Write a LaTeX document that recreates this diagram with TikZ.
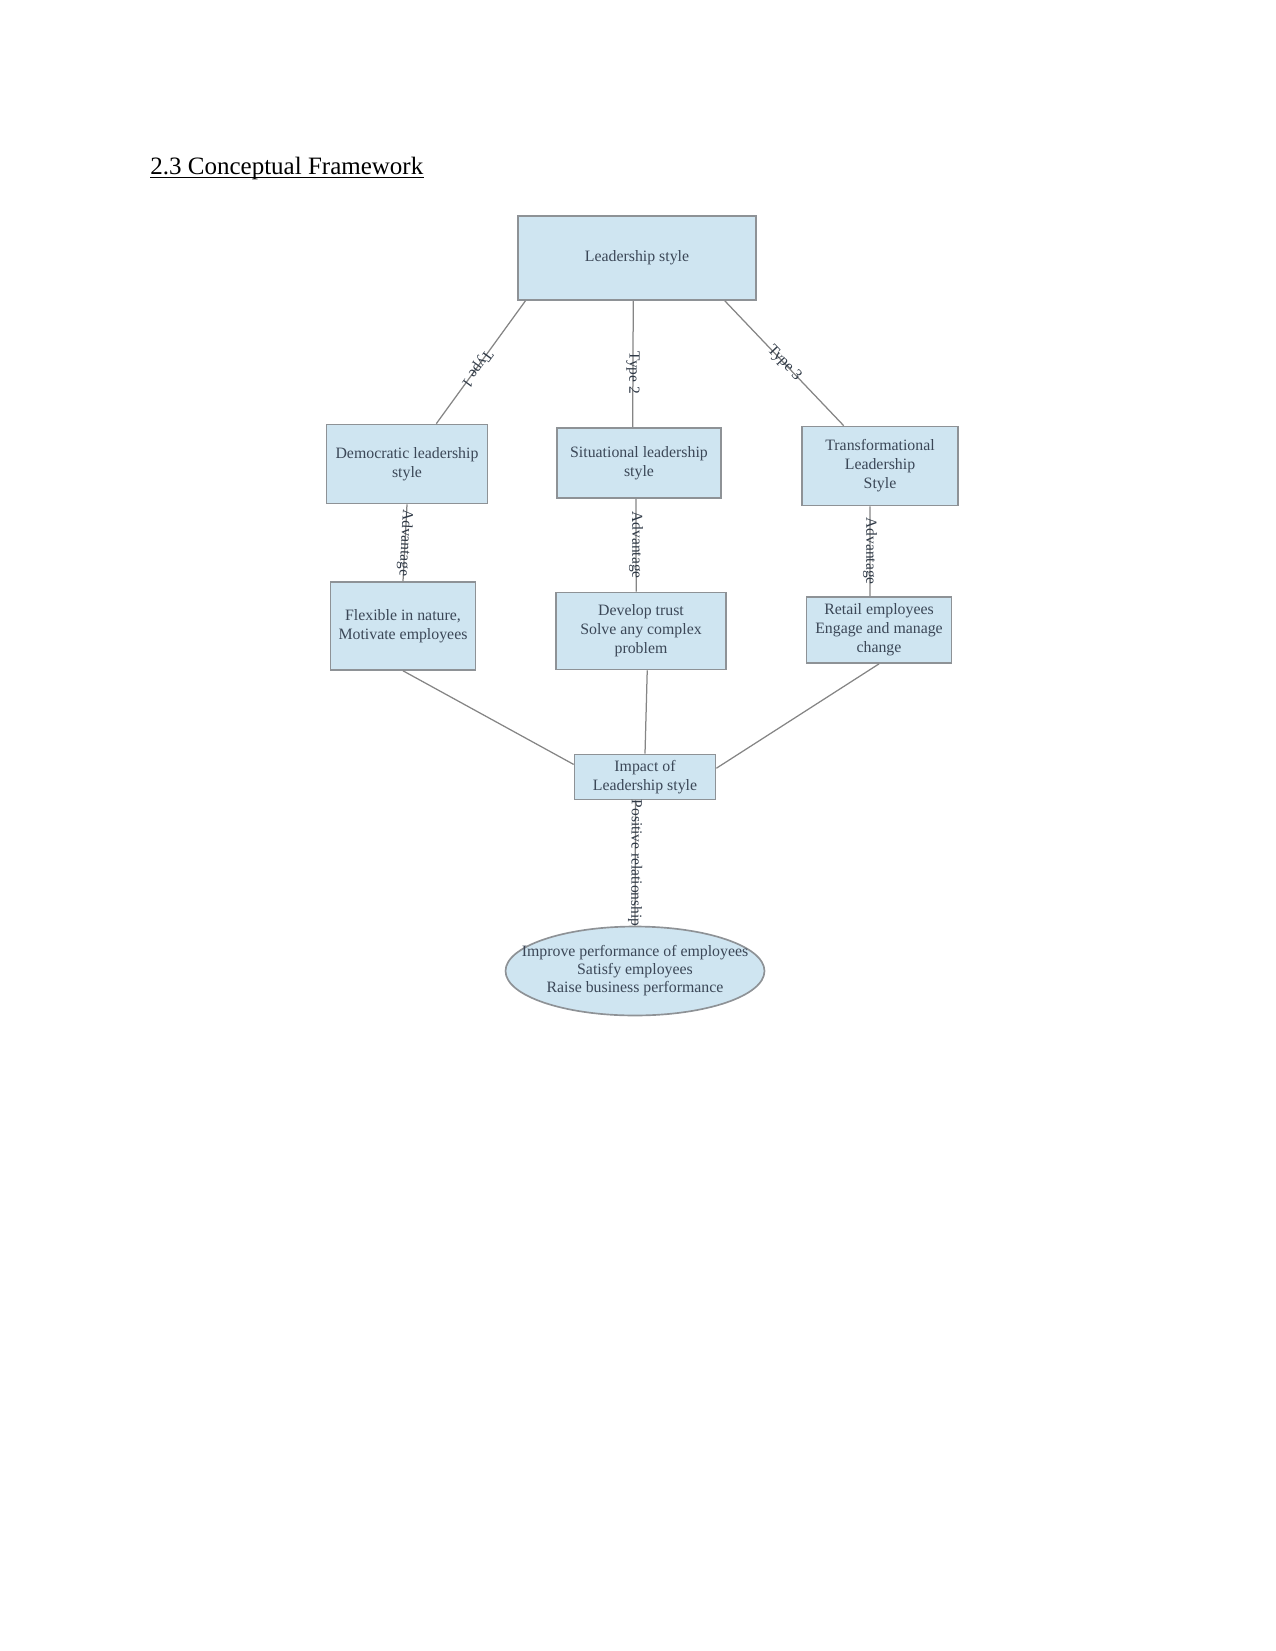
\documentclass[tikz,border=0pt]{standalone}
\usepackage{fontspec}
\setmainfont{Liberation Serif}
\usetikzlibrary{shapes.geometric}
\definecolor{boxfill}{HTML}{CFE5F1}
\definecolor{boxline}{HTML}{8E9296}
\definecolor{boxtext}{HTML}{3B4757}
\definecolor{linkgray}{HTML}{858585}
\begin{document}
\begin{tikzpicture}[x=0.48pt, y=-0.48pt,
    leadbox/.style={rectangle, draw=boxline, fill=boxfill, line width=0.8pt, align=center,
        text=boxtext, font=\fontsize{7.6}{9.1}\selectfont, inner sep=1pt},
    resultoval/.style={ellipse, draw=boxline, fill=boxfill, line width=0.8pt,
        text=boxtext, font=\fontsize{7.6}{8.6}\selectfont, inner sep=0pt,
        minimum width=124.3pt, minimum height=42.7pt},
    joinline/.style={draw=linkgray, line width=0.6pt},
    linetag/.style={font=\fontsize{7.4}{9}\selectfont, text=boxtext!80!black, inner sep=0pt,
        midway, sloped, allow upside down}]
    \useasboundingbox (0,0) rectangle (1275,1651);

    % Title
    \node[anchor=base west, inner sep=0pt, font=\fontsize{12}{14}\selectfont] (Title) at (150,175) {2.3 Conceptual Framework};
    \draw[line width=0.55pt] ([yshift=-1.3pt]Title.base west) -- ([yshift=-1.3pt]Title.base east);

    % Nodes
    \node[leadbox, minimum width=114.2pt, minimum height=40.3pt] (Lead) at (637,258) {Leadership style};
    \node[leadbox, minimum width=77.3pt, minimum height=37.9pt] (Demo) at (407,464) {Democratic leadership\\style};
    \node[leadbox, minimum width=78.7pt, minimum height=33.6pt] (Situ) at (639,463) {Situational leadership\\style};
    \node[leadbox, minimum width=74.9pt, minimum height=37.9pt] (Trans) at (880,466) {Transformational\\Leadership\\Style};
    \node[leadbox, minimum width=69.6pt, minimum height=42.2pt] (Flex) at (403,626) {Flexible in nature,\\Motivate employees};
    \node[leadbox, minimum width=81.6pt, minimum height=37pt] (Trust) at (641,631) {Develop trust\\Solve any complex\\problem};
    \node[leadbox, minimum width=69.6pt, minimum height=31.7pt] (Retail) at (879,630) {Retail employees\\Engage and manage\\change};
    \node[leadbox, minimum width=67.7pt, minimum height=21.6pt] (Impact) at (645,777) {Impact of\\Leadership style};
    \node[resultoval] (Out) at (635,971) {\makebox[0pt]{\begin{tabular}{@{}c@{}}Improve performance of employees\\Satisfy employees\\Raise business performance\end{tabular}}};

    % Types
    \draw[joinline] (Lead.201) -- node[linetag, pos=0.55] {Type 1} (Demo.54);
    \draw[joinline] (Lead.265) -- node[linetag, pos=0.57] {Type 2} (Situ.100);
    \draw[joinline] (Lead.334) -- node[linetag] {Type 3} (Trans.132);

    % Advantages
    \draw[joinline] (Demo.south) -- node[linetag] {Advantage} (Flex.north);
    \draw[joinline] (Situ.265) -- node[linetag] {Advantage} (Trust.97);
    \draw[joinline] (Trans.256) -- node[linetag] {Advantage} (Retail.105);

    % Impact
    \draw[joinline] (Flex.south) -- (Impact.170);
    \draw[joinline] (Trust.279) -- (Impact.north);
    \draw[joinline] (Retail.south) -- (Impact.7);
    \draw[joinline] (Impact.248) -- node[linetag] {Positive relationship} (Out.north);
\end{tikzpicture}
\end{document}
